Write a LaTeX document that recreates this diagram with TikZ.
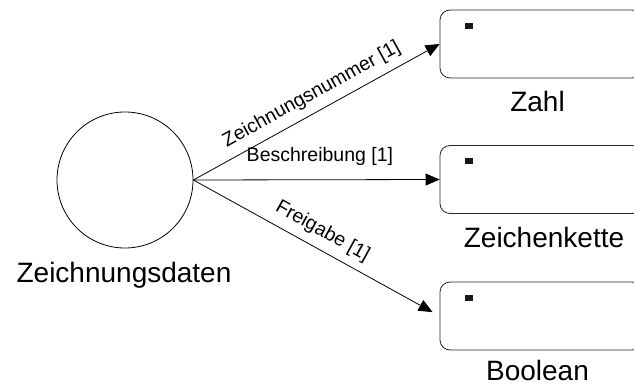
\documentclass[tikz,border=0pt]{standalone}
\usepackage{fontspec}
\setmainfont{Liberation Sans}
\usetikzlibrary{arrows.meta}
\begin{document}
\begin{tikzpicture}[x=1pt,y=-1pt,
  entity/.style={circle,draw,line width=0.8pt,minimum size=136pt,inner sep=0pt},
  typebox/.style={draw=black!85,line width=0.8pt,rounded corners=10pt,
    minimum width=202pt,minimum height=68pt,inner sep=0pt},
  caption/.style={font=\fontsize{28}{30}\selectfont,anchor=base,inner sep=0pt},
  rel/.style={line width=0.8pt,-{Triangle[length=14pt,width=12pt]}},
  rellabel/.style={font=\fontsize{19.5}{22}\selectfont,sloped,above=5pt,inner sep=3pt}]
  \path[use as bounding box,clip] (0,0) rectangle (634,385);
  \fill[white] (0,0) rectangle (634,385);

  % entity and its attribute types
  \node[entity] (daten) at (125,180) {};
  \node[caption] (datenlbl) at (124,282) {Zeichnungsdaten};

  \node[typebox] (zahl) at (541,44) {};
  \node[typebox] (kette) at (541,179.5) {};
  \node[typebox] (bool) at (541,316) {};

  \foreach \b in {zahl,kette,bool}
    \fill[black!90] ([shift={(25,13)}]\b.north west) rectangle ++(8,6);

  \node[caption] (zahllbl) at (537.5,112) {Zahl};
  \node[caption] (kettelbl) at (544,247) {Zeichenkette};
  \node[caption] (boollbl) at (537.5,380) {Boolean};

  % attribute relations
  \draw[rel] (daten.east) -- (zahl.west)
    node[rellabel,pos=0.515] {Zeichnungsnummer [1]};
  \draw[rel] (daten.east) -- (kette.west)
    node[rellabel,above=6pt,pos=0.514] {Beschreibung [1]};
  \draw[rel,shorten >=8pt] (daten.east) -- (bool.west)
    node[rellabel,pos=0.49] {Freigabe [1]};
\end{tikzpicture}
\end{document}
